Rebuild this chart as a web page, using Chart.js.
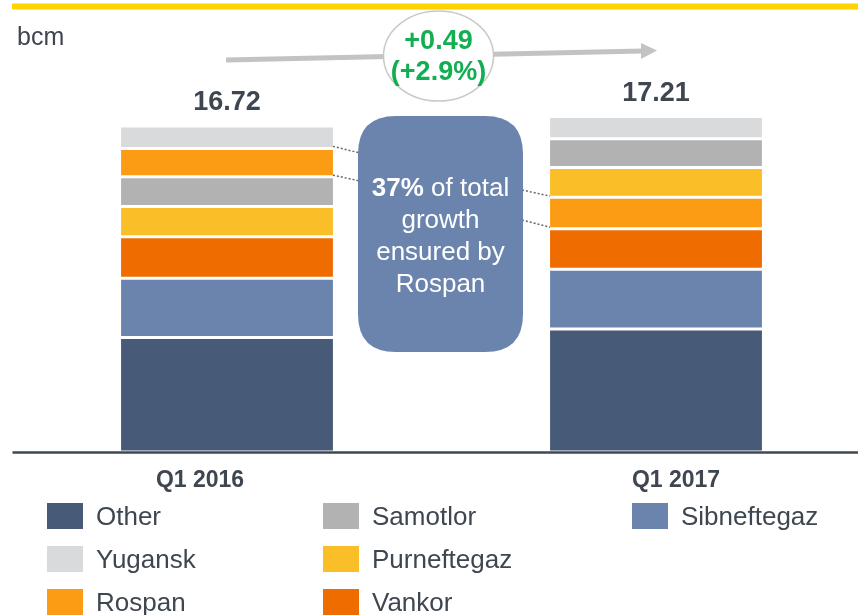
<!DOCTYPE html>
<html>
<head>
<meta charset="utf-8">
<script src="https://cdn.jsdelivr.net/npm/chart.js@4"></script>
<style>
    html, body { margin: 0; padding: 0; background: #fff; overflow: hidden; }
    #wrap { position: relative; width: 858px; height: 615px; overflow: hidden; }
</style>
</head>
<body>
<div id="wrap"><canvas id="gas-chart" width="871" height="615"></canvas></div>
<script>
var categories = ['Q1 2016', 'Q1 2017'];
var totalLabels = ['16.72', '17.21'];

var seriesNames = ['Other', 'Sibneftegaz', 'Vankor', 'Purneftegaz', 'Samotlor', 'Rospan', 'Yugansk'];
var otherVals = [5.87, 6.31];
var sibneftegazVals = [3.04, 3.06];
var vankorVals = [2.13, 2.08];
var purneftegazVals = [1.55, 1.52];
var samotlorVals = [1.53, 1.48];
var rospanVals = [1.45, 1.62];
var yuganskVals = [1.15, 1.14];

// bottom-up stacking order, it differs between the two quarters
var stackOrder = [
    ['Other', 'Sibneftegaz', 'Vankor', 'Purneftegaz', 'Samotlor', 'Rospan', 'Yugansk'],
    ['Other', 'Sibneftegaz', 'Vankor', 'Rospan', 'Purneftegaz', 'Samotlor', 'Yugansk']
];

var legendOrder = ['Other', 'Yugansk', 'Rospan', 'Samotlor', 'Purneftegaz', 'Vankor', 'Sibneftegaz'];

var deltaLines = ['+0.49', '(+2.9%)'];
var calloutBold = '37%';
var calloutLines = [' of total', 'growth', 'ensured by', 'Rospan'];

var colors = {
    Other: '#475a78',
    Sibneftegaz: '#6a84ae',
    Vankor: '#ef6c00',
    Purneftegaz: '#f9be28',
    Samotlor: '#b2b2b2',
    Rospan: '#fb9c14',
    Yugansk: '#d9dadb'
};

var valuesByName = {
    Other: otherVals,
    Sibneftegaz: sibneftegazVals,
    Vankor: vankorVals,
    Purneftegaz: purneftegazVals,
    Samotlor: samotlorVals,
    Rospan: rospanVals,
    Yugansk: yuganskVals
};

var FONT = '"Liberation Sans", Arial, sans-serif';
var TEXT = '#3e4650';

function buildDatasets() {
    var datasets = [];
    seriesNames.forEach(function (name) {
        var data = categories.map(function (c, i) {
            var base = 0;
            var order = stackOrder[i];
            for (var k = 0; k < order.length; k++) {
                if (order[k] === name) break;
                base += valuesByName[order[k]][i];
            }
            return [base, base + valuesByName[name][i]];
        });
        datasets.push({
            label: name,
            data: data,
            backgroundColor: colors[name],
            borderColor: '#ffffff',
            borderWidth: { top: 1.5, bottom: 1.5, left: 0, right: 0 },
            borderSkipped: false
        });
    });
    return datasets;
}

function roundRect(ctx, x, y, w, h, r) {
    ctx.beginPath();
    ctx.moveTo(x + r, y);
    ctx.lineTo(x + w - r, y);
    ctx.quadraticCurveTo(x + w, y, x + w, y + r);
    ctx.lineTo(x + w, y + h - r);
    ctx.quadraticCurveTo(x + w, y + h, x + w - r, y + h);
    ctx.lineTo(x + r, y + h);
    ctx.quadraticCurveTo(x, y + h, x, y + h - r);
    ctx.lineTo(x, y + r);
    ctx.quadraticCurveTo(x, y, x + r, y);
    ctx.closePath();
}

var decorPlugin = {
    id: 'decor',
    afterDatasetsDraw: function (chart) {
        var ctx = chart.ctx;
        var yScale = chart.scales.y;
        var area = chart.chartArea;
        ctx.save();

        // yellow rule on top
        ctx.fillStyle = '#ffd200';
        ctx.fillRect(12, 3.5, 858 - 12, 6);

        // unit
        ctx.fillStyle = TEXT;
        ctx.font = '25px ' + FONT;
        ctx.textAlign = 'left';
        ctx.textBaseline = 'alphabetic';
        ctx.fillText('bcm', 17, 45);

        // growth arrow
        ctx.strokeStyle = '#c3c3c3';
        ctx.lineWidth = 5;
        ctx.beginPath();
        ctx.moveTo(226, 60);
        ctx.lineTo(643, 51);
        ctx.stroke();
        ctx.fillStyle = '#c3c3c3';
        ctx.beginPath();
        ctx.moveTo(657, 50.5);
        ctx.lineTo(641, 43);
        ctx.lineTo(641, 59);
        ctx.closePath();
        ctx.fill();

        // delta bubble
        ctx.beginPath();
        ctx.ellipse(438.5, 56, 55, 45, 0, 0, Math.PI * 2);
        ctx.fillStyle = '#ffffff';
        ctx.fill();
        ctx.strokeStyle = '#c9c9c9';
        ctx.lineWidth = 1.5;
        ctx.stroke();
        ctx.fillStyle = '#13ad52';
        ctx.font = 'bold 27px ' + FONT;
        ctx.textAlign = 'center';
        ctx.textBaseline = 'middle';
        ctx.fillText(deltaLines[0], 438.5, 42);
        ctx.fillText(deltaLines[1], 438.5, 73);

        // totals above bars
        var topMeta = chart.getDatasetMeta(seriesNames.length - 1);
        ctx.fillStyle = TEXT;
        ctx.font = 'bold 27px ' + FONT;
        categories.forEach(function (c, i) {
            var total = 0;
            seriesNames.forEach(function (n) { total += valuesByName[n][i]; });
            var x = topMeta.data[i].x;
            var y = yScale.getPixelForValue(total);
            ctx.fillText(totalLabels[i], x, y - 23);
        });

        // dotted connectors from Rospan segments to the callout
        var rospanEls = chart.getDatasetMeta(seriesNames.indexOf('Rospan')).data;
        var l = rospanEls[0], r = rospanEls[1];
        ctx.strokeStyle = '#666666';
        ctx.lineWidth = 1.5;
        ctx.setLineDash([2, 2]);
        ctx.beginPath();
        ctx.moveTo(l.x + l.width / 2, l.y - 2); ctx.lineTo(360, 153);
        ctx.moveTo(l.x + l.width / 2, l.base - 1.5); ctx.lineTo(360, 181);
        ctx.moveTo(522, 190); ctx.lineTo(r.x - r.width / 2, r.y - 1);
        ctx.moveTo(522, 220); ctx.lineTo(r.x - r.width / 2, r.base - 1.5);
        ctx.stroke();
        ctx.setLineDash([]);

        // callout box
        roundRect(ctx, 358, 116, 165, 236, 38);
        ctx.fillStyle = '#6a84ae';
        ctx.fill();
        ctx.fillStyle = '#ffffff';
        ctx.textBaseline = 'alphabetic';
        ctx.font = 'bold 26px ' + FONT;
        var bw = ctx.measureText(calloutBold).width;
        ctx.font = '26px ' + FONT;
        var rw = ctx.measureText(calloutLines[0]).width;
        var sx = 440.5 - (bw + rw) / 2;
        ctx.textAlign = 'left';
        ctx.font = 'bold 26px ' + FONT;
        ctx.fillText(calloutBold, sx, 196);
        ctx.font = '26px ' + FONT;
        ctx.fillText(calloutLines[0], sx + bw, 196);
        ctx.textAlign = 'center';
        for (var k = 1; k < calloutLines.length; k++) {
            ctx.fillText(calloutLines[k], 440.5, 196 + 32 * k);
        }

        // baseline
        var y0 = yScale.getPixelForValue(0);
        ctx.strokeStyle = '#3e4853';
        ctx.lineWidth = 2.5;
        ctx.beginPath();
        ctx.moveTo(area.left, y0 + 0.5);
        ctx.lineTo(858, y0 + 0.5);
        ctx.stroke();

        // category labels
        ctx.fillStyle = TEXT;
        ctx.font = 'bold 23px ' + FONT;
        ctx.textAlign = 'center';
        ctx.textBaseline = 'middle';
        ctx.fillText(categories[0], 200, 481);
        ctx.fillText(categories[1], 676, 481);

        // legend, filled column by column
        var colX = [47, 323, 632];
        var rowY = [516, 559, 602];
        ctx.font = '26px ' + FONT;
        ctx.textAlign = 'left';
        legendOrder.forEach(function (name, i) {
            var cx = colX[Math.floor(i / 3)];
            var cy = rowY[i % 3];
            ctx.fillStyle = colors[name];
            ctx.fillRect(cx, cy - 13, 36, 26);
            ctx.fillStyle = TEXT;
            ctx.fillText(name, cx + 49, cy + 2);
        });

        ctx.restore();
    }
};

var chart = new Chart(document.getElementById('gas-chart'), {
    type: 'bar',
    data: { labels: categories, datasets: buildDatasets() },
    options: {
        responsive: false,
        animation: false,
        layout: { padding: { left: 12.5, right: 0.5, top: 62, bottom: 163 } },
        datasets: { bar: { categoryPercentage: 1, barPercentage: 0.494 } },
        scales: {
            x: { display: false, stacked: true },
            y: { display: false, stacked: false, min: 0, max: 20 }
        },
        plugins: {
            legend: { display: false },
            tooltip: { enabled: false }
        }
    },
    plugins: [decorPlugin]
});
</script>
</body>
</html>
